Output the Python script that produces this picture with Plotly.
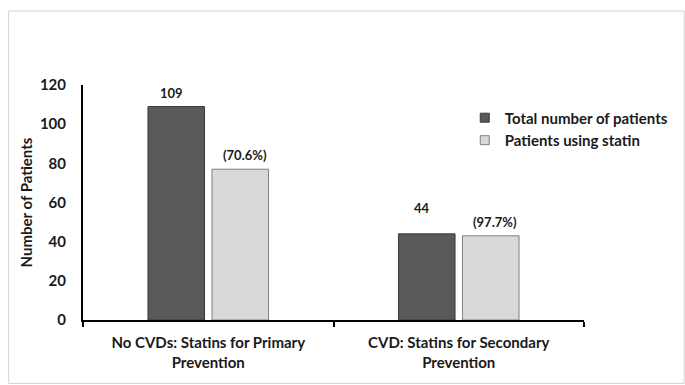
import plotly.graph_objects as go

categories = ["No CVDs: Statins for Primary<br>Prevention", "CVD: Statins for Secondary<br>Prevention"]
total_patients = [109, 44]
statin_users = [77, 43]
series_names = ["Total number of patients", "Patients using statin"]
y_ticks = [0, 20, 40, 60, 80, 100, 120]

pct_labels = ["({:.1f}%)".format(100 * s / t) for s, t in zip(statin_users, total_patients)]
total_labels = [str(t) for t in total_patients]

FONT = "Lato, 'Open Sans', sans-serif"
TXT = "#1a1a1a"
DARK, DARK_EDGE = "#595959", "#3a3a3a"
LIGHT, LIGHT_EDGE = "#d9d9d9", "#7f7f7f"

fig = go.Figure()
fig.add_trace(go.Bar(
    x=categories, y=total_patients, name=series_names[0], showlegend=False,
    marker=dict(color=DARK, line=dict(color=DARK_EDGE, width=1)),
))
fig.add_trace(go.Bar(
    x=categories, y=statin_users, name=series_names[1], showlegend=False,
    marker=dict(color=LIGHT, line=dict(color=LIGHT_EDGE, width=1)),
))

# legend entries with small square keys
for name, col, edge in [(series_names[0], DARK, DARK_EDGE), (series_names[1], LIGHT, LIGHT_EDGE)]:
    fig.add_trace(go.Scatter(
        x=[None], y=[None], mode="markers", name=name,
        marker=dict(symbol="square", size=9, color=col, line=dict(color=edge, width=1)),
    ))

# value labels above the bars
shifts_total = [14, 26]
for i, cat in enumerate(categories):
    fig.add_annotation(x=i - 0.145, y=total_patients[i], xref="x", yref="y",
                       text=total_labels[i], showarrow=False, yshift=shifts_total[i],
                       font=dict(family=FONT, size=13, color=TXT, weight="bold"))
    fig.add_annotation(x=i + 0.145, y=statin_users[i], xref="x", yref="y",
                       text=pct_labels[i], showarrow=False, yshift=14,
                       font=dict(family=FONT, size=13, color=TXT, weight="bold"))

# light outer frame
fig.add_shape(type="rect", xref="paper", yref="paper",
              x0=-0.1485, x1=1.2, y0=-0.27, y1=1.315,
              line=dict(color="#d4d4d4", width=1), layer="below")

fig.update_layout(
    width=685, height=385,
    margin=dict(l=83, r=97, t=85, b=65),
    paper_bgcolor="white", plot_bgcolor="white",
    barmode="group", bargap=0.489, bargroupgap=0.116,
    font=dict(family=FONT, color=TXT),
    showlegend=True,
    legend=dict(x=0.762, y=0.93, xanchor="left", yanchor="top",
                bgcolor="rgba(0,0,0,0)", traceorder="normal",
                font=dict(family=FONT, size=15, color=TXT, weight="bold"),
                itemwidth=30, tracegroupgap=0),
)
fig.update_xaxes(
    type="category", showline=True, linecolor="black", linewidth=2,
    ticks="outside", tickson="boundaries", ticklen=5, tickwidth=2, tickcolor="black",
    ticklabelstandoff=8,
    tickfont=dict(family=FONT, size=15, color=TXT, weight="bold"),
    showgrid=False, zeroline=False,
)
fig.update_yaxes(
    range=[0, 120], tickvals=y_ticks, showline=True, linecolor="black", linewidth=2,
    ticks="", showgrid=False, zeroline=False, ticklabelstandoff=12,
    tickfont=dict(family=FONT, size=15, color=TXT, weight="bold"),
    title=dict(text="Number of Patients", standoff=4,
               font=dict(family=FONT, size=15, color=TXT, weight="bold")),
)

fig.write_html("out.html")
